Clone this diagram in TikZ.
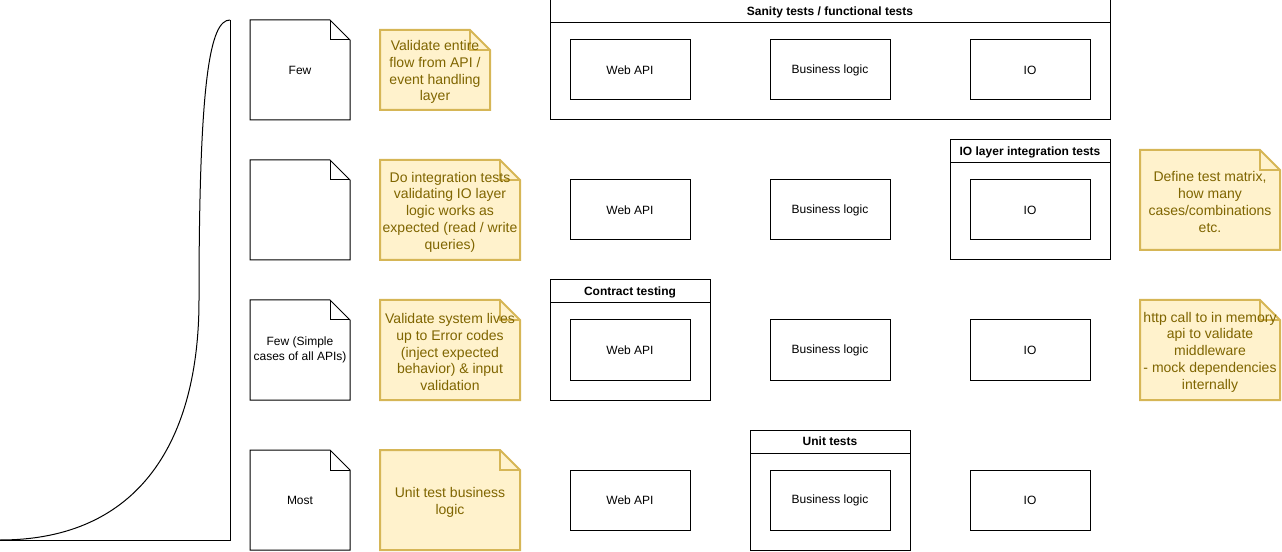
\documentclass[tikz,border=0pt]{standalone}
\usepackage{fontspec}
\setmainfont{Liberation Sans}
\definecolor{notefill}{HTML}{FFF2CC}
\definecolor{noteline}{HTML}{D6B656}
\definecolor{notetext}{HTML}{7F6500}
\tikzset{
  px/.style={x=0.75pt,y=-0.75pt},
  layer/.style={draw,line width=0.75pt,minimum width=90pt,minimum height=45pt,inner sep=0pt,font=\fontsize{9}{10.8}\selectfont},
  lane/.style={draw,line width=0.75pt,inner sep=0pt},
  lanetitle/.style={draw,line width=0.75pt,anchor=north,minimum height=17.25pt,inner sep=0pt,text depth=0.5pt,font=\fontsize{9}{10.8}\selectfont\bfseries},
  doc/.style={draw,line width=0.75pt,fill=white},
  note/.style={draw=noteline,fill=notefill,line width=1.5pt},
  doctext/.style={align=center,font=\fontsize{9}{10.8}\selectfont},
  notetext/.style={align=center,text=notetext,yshift=-1.5pt,font=\fontsize{10.5}{12.6}\selectfont},
}
\newcommand{\fold}[5]{%
  \draw[#1] (#2,#3) -- (#4-20,#3) -- (#4,#3+20) -- (#4,#5) -- (#2,#5) -- cycle;
  \draw[#1,fill=none] (#4-20,#3) -- (#4-20,#3+20) -- (#4,#3+20);
}
\begin{document}
\begin{tikzpicture}[px]
  \useasboundingbox (0,0) rectangle (1282,552);
  \draw[line width=0.75pt] (230,20) -- (230,540) -- (0,540);
  \draw[line width=0.75pt] (230,20) .. controls (210,20) and (199,80) .. (199,300)
    .. controls (199,440) and (140,540) .. (0,540);

  \node[lane,minimum width=420pt,minimum height=90pt] (sanity) at (830,60) {};
  \node[lanetitle,minimum width=420pt] (sanitytitle) at (sanity.north) {Sanity tests / functional tests};
  \node[lane,minimum width=120pt,minimum height=90pt] (iolayer) at (1030,200) {};
  \node[lanetitle,minimum width=120pt] (iolayertitle) at (iolayer.north) {IO layer integration tests};
  \node[lane,minimum width=120pt,minimum height=90pt] (contract) at (630,340) {};
  \node[lanetitle,minimum width=120pt] (contracttitle) at (contract.north) {Contract testing};
  \node[lane,minimum width=120pt,minimum height=90pt] (unit) at (830,490) {};
  \node[lanetitle,minimum width=120pt] (unittitle) at (unit.north) {Unit tests};

  \foreach \r/\y in {1/70,2/210,3/350,4/500} {
    \node[layer] (api\r) at (630,\y) {Web API};
    \node[layer] (logic\r) at (830,\y) {Business logic};
    \node[layer] (io\r) at (1030,\y) {IO};
  }

  \fold{doc}{250}{20}{350}{120}
  \node[doctext] (count1) at (300,70) {Few};
  \fold{doc}{250}{160}{350}{260}
  \fold{doc}{250}{300}{350}{400}
  \node[doctext] (count3) at (300,350) {Few (Simple\\cases of all APIs)};
  \fold{doc}{250}{450}{350}{550}
  \node[doctext] (count4) at (300,500) {Most};

  \fold{note}{380}{30}{490}{110}
  \node[notetext] (note1) at (435,70) {Validate entire\\flow from API /\\event handling\\layer};
  \fold{note}{380}{160}{520}{260}
  \node[notetext] (note2) at (450,210) {Do integration tests\\validating IO layer\\logic works as\\expected (read / write\\queries)};
  \fold{note}{380}{300}{520}{400}
  \node[notetext] (note3) at (450,350) {Validate system lives\\up to Error codes\\(inject expected\\behavior) \& input\\validation};
  \fold{note}{380}{450}{520}{550}
  \node[notetext] (note4) at (450,500) {Unit test business\\logic};
  \fold{note}{1140}{150}{1280}{250}
  \node[notetext] (matrix) at (1210,200) {Define test matrix,\\how many\\cases/combinations\\etc.};
  \fold{note}{1140}{300}{1280}{400}
  \node[notetext] (memory) at (1210,350) {http call to in memory\\api to validate\\middleware\\- mock dependencies\\internally};
\end{tikzpicture}
\end{document}
